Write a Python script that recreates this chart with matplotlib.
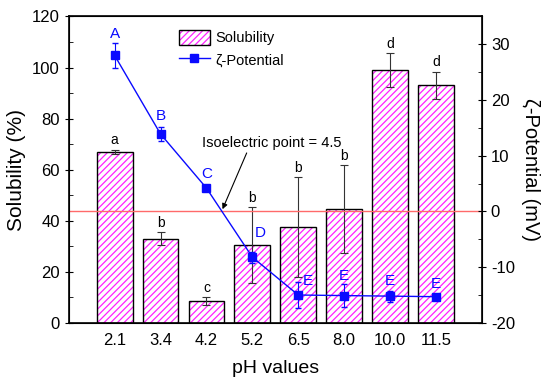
import numpy as np
import matplotlib.pyplot as plt
import matplotlib.colors as mcolors

plt.rcParams['font.family'] = ['Liberation Sans', 'DejaVu Sans']
plt.rcParams['axes.unicode_minus'] = False
plt.rcParams['hatch.linewidth'] = 0.9

ph = ['2.1', '3.4', '4.2', '5.2', '6.5', '8.0', '10.0', '11.5']
solubility = [67, 33, 8.5, 30.5, 37.5, 44.5, 99, 93]
sol_err = [0.7, 2.5, 1.5, 14.8, 19.5, 17.2, 6.5, 5.2]
sol_letters = ['a', 'b', 'c', 'b', 'b', 'b', 'd', 'd']

zeta = [28.0, 13.9, 4.2, -8.2, -15.0, -15.1, -15.2, -15.3]
zeta_err = [2.2, 1.3, 0.5, 1.0, 2.3, 2.0, 1.0, 0.3]
zeta_letters = ['A', 'B', 'C', 'D', 'E', 'E', 'E', 'E']

x = np.arange(len(ph))
blue = '#0a0aff'
magenta = '#ff22ff'

fig = plt.figure(figsize=(5.5, 3.83), dpi=100)
ax1 = fig.add_subplot(111)
fig.subplots_adjust(left=0.125, right=0.876, top=0.957, bottom=0.157)

bars = ax1.bar(x, solubility, width=0.78, color='white', edgecolor='black',
               hatch='/////', linewidth=1.0, label='Solubility')
for b in bars:
    b._hatch_color = mcolors.to_rgba(magenta)
ax1.errorbar(x, solubility, yerr=sol_err, fmt='none', ecolor='#333333',
             elinewidth=0.8, capsize=3, capthick=0.8)
# letters sit a little above each error bar
for xi, s, e, t in zip(x, solubility, sol_err, sol_letters):
    ax1.text(xi, s + e + 3.8, t, ha='center', va='center', fontsize=10)

ax1.set_xlim(-1, 8)
ax1.set_ylim(0, 120)
ax1.set_yticks(np.arange(0, 121, 20))
ax1.set_yticks(np.arange(10, 121, 20), minor=True)
ax1.set_xticks(x)
ax1.set_xticklabels(ph)
ax1.tick_params(axis='x', length=0, labelsize=12, pad=7)
ax1.tick_params(axis='y', which='major', direction='inout', length=6, labelsize=12)
ax1.tick_params(axis='y', which='minor', direction='in', length=3)
ax1.set_ylabel('Solubility (%)', fontsize=15, labelpad=4)
ax1.set_xlabel('pH values', fontsize=14, labelpad=9)
for sp in ax1.spines.values():
    sp.set_linewidth(1.2)

ax2 = ax1.twinx()
ax2.axhline(0, color='#ff6a6a', linewidth=1.0, zorder=1)
ax2.errorbar(x, zeta, yerr=zeta_err, fmt='none', ecolor=blue,
             elinewidth=0.8, capsize=2.5)
ax2.plot(x, zeta, color=blue, marker='s', markersize=5.5, linewidth=1.0,
         label='\u03b6-Potential')
lab_dx = [0, 0, 0, 0.17, 0.2, 0, 0, 0]
lab_dy = [1.6, 1.9, 2.1, 3.3, 0.3, 1.5, 1.8, 2.0]
for xi, z, e, t, dx, dy in zip(x, zeta, zeta_err, zeta_letters, lab_dx, lab_dy):
    ax2.text(xi + dx, z + e + dy, t, ha='center', va='center',
             fontsize=11, color=blue)
ax2.set_ylim(-20, 35)
ax2.set_yticks(np.arange(-20, 31, 10))
ax2.set_yticks(np.arange(-15, 31, 10), minor=True)
ax2.tick_params(axis='y', which='major', direction='inout', length=6, labelsize=12)
ax2.tick_params(axis='y', which='minor', direction='in', length=3)
ax2.set_ylabel('\u03b6-Potential (mV)', fontsize=14.5, rotation=270, labelpad=18)

ax2.annotate('Isoelectric point = 4.5', xy=(2.35, 0.4), xytext=(1.9, 11.0),
             fontsize=10.5, ha='left', va='bottom',
             arrowprops=dict(arrowstyle='-|>', color='black', lw=0.8,
                             mutation_scale=8, shrinkA=0, shrinkB=0,
                             relpos=(0.33, 0.0)))

h1, l1 = ax1.get_legend_handles_labels()
h2, l2 = ax2.get_legend_handles_labels()
ax1.legend(h1 + h2, l1 + l2, loc='upper left', bbox_to_anchor=(0.235, 1.0),
           frameon=False, fontsize=10.5, handlelength=2.1, handleheight=1.3,
           handletextpad=0.4, labelspacing=0.4)

fig.savefig('out.png', dpi=100)
